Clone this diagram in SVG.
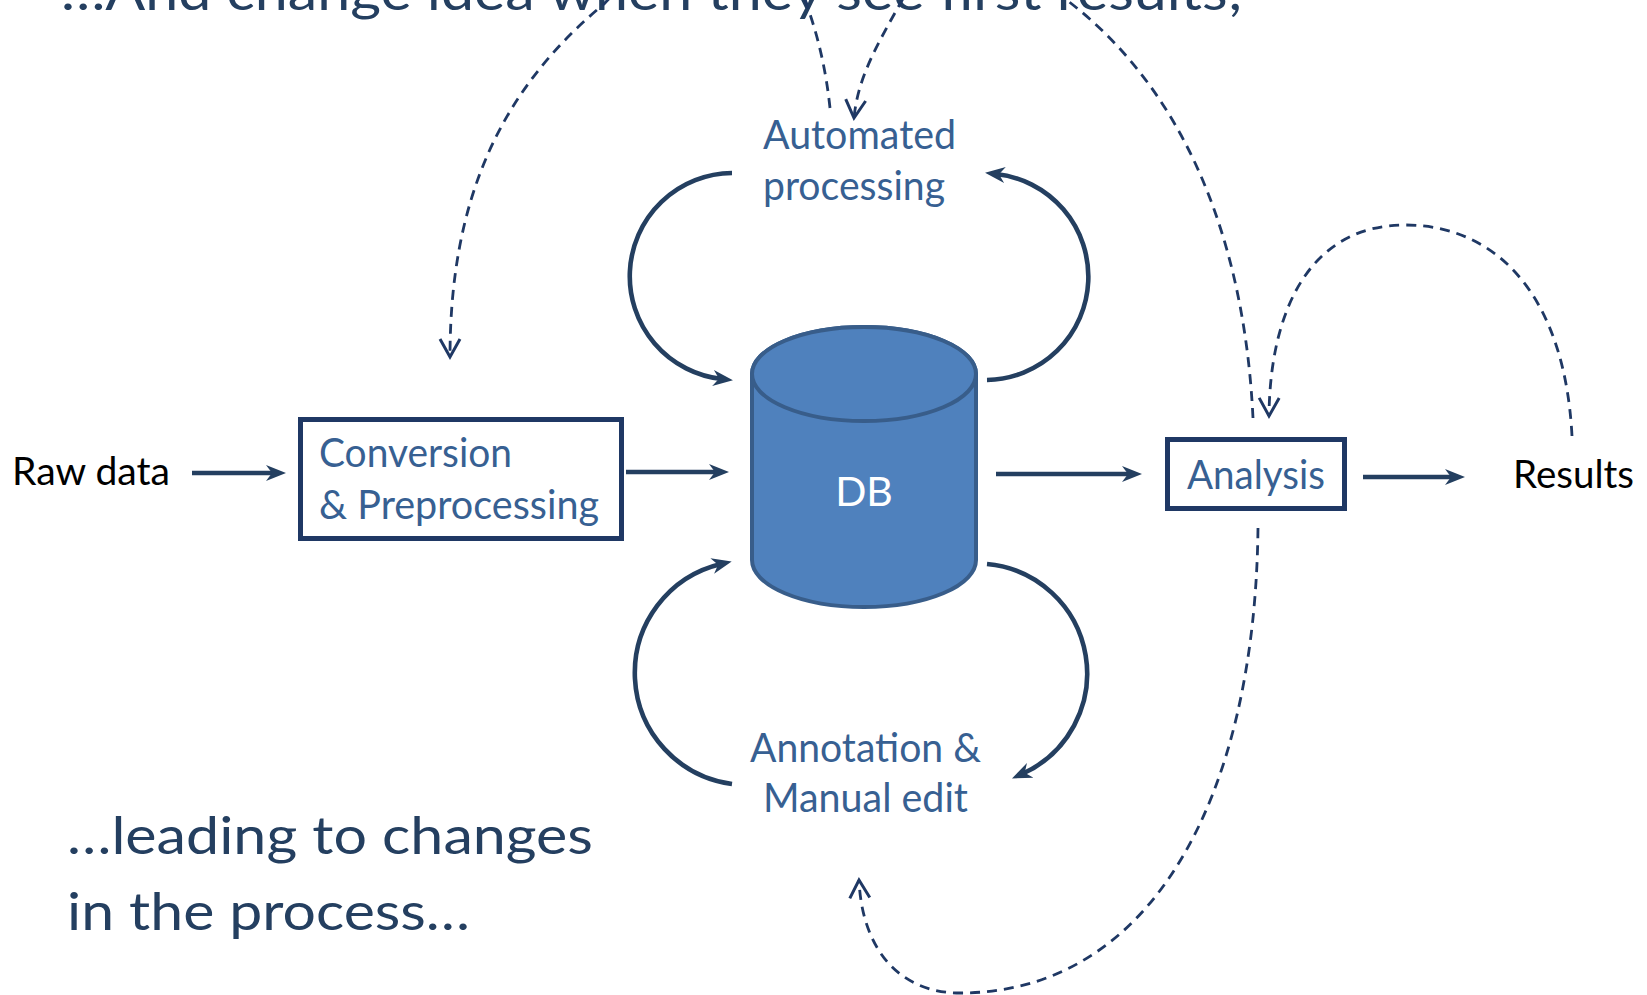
<svg xmlns="http://www.w3.org/2000/svg" width="1647" height="995" viewBox="0 0 1647 995">
  <style>
    .label { font-family: Lato, "Open Sans", "Liberation Sans", sans-serif; fill: #376092; font-size: 40px; }
    .plain { font-family: Lato, "Open Sans", "Liberation Sans", sans-serif; fill: #000000; font-size: 38px; }
    .note { font-family: Lato, "Open Sans", "Liberation Sans", sans-serif; fill: #243F60; font-size: 52px; }
    .box { fill: #ffffff; stroke: #1F3864; stroke-width: 5; }
    .flow { fill: none; stroke: #243F60; stroke-width: 4.6; marker-end: url(#solid-head); }
    .feedback { fill: none; stroke: #1F3864; stroke-width: 2.8; stroke-dasharray: 10 7; }
  </style>
  <defs>
    <marker id="solid-head" markerUnits="userSpaceOnUse" markerWidth="21" markerHeight="18" refX="9" refY="9" orient="auto" viewBox="0 0 21 18">
      <path d="M0,1 L20,9 L0,17 L6,9 Z" fill="#243F60"/>
    </marker>
    <marker id="open-head" markerUnits="userSpaceOnUse" markerWidth="24" markerHeight="26" refX="20" refY="13" orient="auto" viewBox="0 0 24 26">
      <path d="M2,3 L20,13 L2,23" fill="none" stroke="#1F3864" stroke-width="3" stroke-linejoin="miter"/>
    </marker>
  </defs>

  <rect width="1647" height="995" fill="#ffffff"/>

  <!-- commentary text -->
  <g id="note-top">
    <text class="note" x="61" y="10" textLength="1182" lengthAdjust="spacingAndGlyphs">…And change idea when they see first results;</text>
  </g>
  <g id="note-bottom">
    <text class="note" x="67" y="854" textLength="526" lengthAdjust="spacingAndGlyphs">…leading to changes</text>
    <text class="note" x="67" y="930" textLength="403" lengthAdjust="spacingAndGlyphs">in the process…</text>
  </g>

  <!-- nodes -->
  <g id="node-raw-data">
    <text class="plain" x="12" y="485" textLength="158" lengthAdjust="spacingAndGlyphs">Raw data</text>
  </g>

  <g id="node-conversion">
    <rect class="box" x="300.5" y="419.5" width="321" height="119"/>
    <text class="label" x="319" y="467" textLength="193" lengthAdjust="spacingAndGlyphs">Conversion</text>
    <text class="label" x="319" y="519" textLength="280" lengthAdjust="spacingAndGlyphs">&amp; Preprocessing</text>
  </g>

  <g id="node-db">
    <path d="M752,374 L752,560 A112,47 0 0 0 976,560 L976,374 A112,47 0 0 0 752,374 Z" fill="#4F81BD" stroke="#385D8A" stroke-width="4"/>
    <ellipse cx="864" cy="374" rx="112" ry="47" fill="#4F81BD" stroke="#385D8A" stroke-width="4"/>
    <text x="864" y="506" text-anchor="middle" font-family="Lato, 'Open Sans', 'Liberation Sans', sans-serif" font-size="41" fill="#ffffff">DB</text>
  </g>

  <g id="node-automated">
    <text class="label" x="763" y="149" textLength="193" lengthAdjust="spacingAndGlyphs">Automated</text>
    <text class="label" x="763" y="200" textLength="182" lengthAdjust="spacingAndGlyphs">processing</text>
  </g>

  <g id="node-annotation">
    <text class="label" x="750" y="762" textLength="231" lengthAdjust="spacingAndGlyphs">Annotation &amp;</text>
    <text class="label" x="763" y="812" textLength="205" lengthAdjust="spacingAndGlyphs">Manual edit</text>
  </g>

  <g id="node-analysis">
    <rect class="box" x="1167.5" y="439.5" width="177" height="69"/>
    <text class="label" x="1187" y="489" textLength="138" lengthAdjust="spacingAndGlyphs">Analysis</text>
  </g>

  <g id="node-results">
    <text class="plain" x="1513" y="488" textLength="121" lengthAdjust="spacingAndGlyphs">Results</text>
  </g>

  <!-- connectors -->
  <g id="connectors">
    <!-- main pipeline -->
    <path class="flow" d="M192,473 L275,473"/>
    <path class="flow" d="M626,472 L718,472"/>
    <path class="flow" d="M996,474 L1131,474"/>
    <path class="flow" d="M1363,477 L1454,477"/>

    <!-- automated processing loop -->
    <path class="flow" d="M732,173 A103.3,103.3 0 0 0 722,379"/>
    <path class="flow" d="M987,380 A103.3,103.3 0 0 0 996,174"/>

    <!-- annotation loop -->
    <path class="flow" d="M732,784 A112,112 0 0 1 721,564"/>
    <path class="flow" d="M987,564 A110,110 0 0 1 1022,774"/>

    <!-- feedback: analysis back to conversion -->
    <path class="feedback" marker-end="url(#open-head)" d="M1253,418 C1245,250 1190,90 1060,-5 C900,-120 700,-100 604,4 C500,90 450,200 450,357"/>
    <!-- feedback: automated processing revisited -->
    <path class="feedback" marker-end="url(#open-head)" d="M830,108 C826,70 818,35 805,0 C785,-60 925,-60 905,-5 C880,40 858,75 854,118"/>
    <!-- feedback: results back to analysis -->
    <path class="feedback" marker-end="url(#open-head)" d="M1572,436 C1565,300 1500,225 1405,225 C1310,225 1270,310 1269,416"/>
    <!-- feedback: analysis back to annotation -->
    <path class="feedback" marker-end="url(#open-head)" d="M1258,528 C1255,800 1150,993 960,993 C900,993 862,950 859,880"/>
  </g>
</svg>
